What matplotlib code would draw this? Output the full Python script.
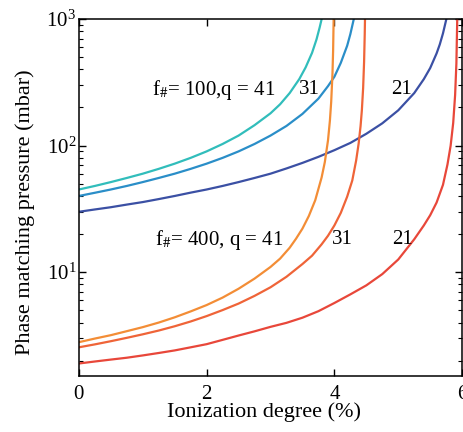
import matplotlib
matplotlib.use("Agg")
import matplotlib.pyplot as plt

plt.rcParams["font.family"] = ["Liberation Serif", "DejaVu Serif"]
plt.rcParams["mathtext.fontset"] = "stix"

# f# = 100 group (blue shades)
x_f100_q41 = [0, 0.25, 0.5, 0.75, 1, 1.25, 1.5, 1.75, 2, 2.25, 2.5, 2.75, 3, 3.15, 3.3,
              3.45, 3.55, 3.65, 3.72, 3.77, 3.82]
p_f100_q41 = [45, 48, 51.5, 55.5, 60, 65.5, 72, 80, 90, 103, 120, 145, 180, 212, 260,
              335, 415, 540, 690, 860, 1100]
x_f100_q31 = [0, 0.25, 0.5, 0.75, 1, 1.25, 1.5, 1.75, 2, 2.25, 2.5, 2.75, 3, 3.25, 3.5,
              3.75, 3.9, 4.0, 4.1, 4.2, 4.25, 4.3, 4.33]
p_f100_q31 = [40, 42.4, 45, 48, 51.5, 55.5, 60, 65.5, 72, 80, 90, 103, 120, 143, 178,
              235, 295, 350, 450, 615, 760, 980, 1150]
x_f100_q21 = [0, 0.25, 0.5, 0.75, 1, 1.25, 1.5, 1.75, 2, 2.25, 2.5, 2.75, 3, 3.25, 3.5,
              3.75, 4, 4.25, 4.5, 4.75, 5, 5.25, 5.4, 5.5, 5.6, 5.65, 5.7, 5.75, 5.78]
p_f100_q21 = [30, 31.3, 32.6, 34.2, 35.8, 37.8, 40, 42.5, 45, 48, 51.5, 55.5, 60, 66, 73,
              81.5, 92, 105, 124, 150, 190, 260, 335, 410, 535, 630, 770, 985, 1150]

# f# = 400 group (orange/red shades)
x_f400_q41 = [0, 0.25, 0.5, 0.75, 1, 1.25, 1.5, 1.75, 2, 2.25, 2.5, 2.75, 3, 3.15, 3.3,
              3.4, 3.5, 3.6, 3.7, 3.8, 3.85, 3.9, 3.93, 3.95, 3.97, 3.98, 3.99]
p_f400_q41 = [2.8, 2.99, 3.18, 3.42, 3.68, 4.0, 4.4, 4.9, 5.5, 6.3, 7.4, 8.9, 11.0, 12.8, 15.6,
              18.4, 22.1, 27.8, 37, 56, 74, 110, 158, 222, 370, 560, 1120]
x_f400_q31 = [0, 0.25, 0.5, 0.75, 1, 1.25, 1.5, 1.75, 2, 2.25, 2.5, 2.75, 3, 3.25, 3.5,
              3.65, 3.8, 3.9, 4.0, 4.1, 4.2, 4.28, 4.34, 4.38, 4.41, 4.43, 4.45, 4.465,
              4.475, 4.482]
p_f400_q31 = [2.55, 2.69, 2.85, 3.03, 3.23, 3.46, 3.74, 4.08, 4.5, 5.02, 5.65, 6.5, 7.6, 9.2, 11.6,
              13.5, 16.6, 19.4, 23.4, 29.4, 39.5, 53, 76, 104, 143, 190, 285, 460,
              760, 1200]
x_f400_q21 = [0, 0.25, 0.5, 0.75, 1, 1.25, 1.5, 1.75, 2, 2.25, 2.5, 2.75, 3, 3.25, 3.5,
              3.75, 4, 4.25, 4.5, 4.75, 5, 5.25, 5.4, 5.5, 5.6, 5.7, 5.77, 5.82, 5.86,
              5.89, 5.91, 5.925]
p_f400_q21 = [1.9, 1.97, 2.04, 2.11, 2.2, 2.3, 2.41, 2.55, 2.7, 2.92, 3.16, 3.41, 3.7, 3.98, 4.37,
              4.92, 5.71, 6.68, 7.87, 9.66, 12.6, 18.2, 23.4, 28.2, 35.5, 49, 70.8, 100, 151,
              251, 447, 1120]

curves = [
    (x_f100_q41, p_f100_q41, "#31bdbb"),
    (x_f100_q31, p_f100_q31, "#2a8ec8"),
    (x_f100_q21, p_f100_q21, "#3b50a4"),
    (x_f400_q41, p_f400_q41, "#f38d36"),
    (x_f400_q31, p_f400_q31, "#ef6438"),
    (x_f400_q21, p_f400_q21, "#e8473a"),
]

fig = plt.figure(figsize=(4.64, 4.32), dpi=100)
ax = fig.add_axes([0.170, 0.1285, 0.826, 0.8275])

for x, p, c in curves:
    ax.plot(x, p, color=c, lw=1.6, solid_joinstyle="round", solid_capstyle="round")

ax.set_yscale("log")
ax.set_xlim(0, 6)
ax.set_ylim(1.5, 1000)
ax.set_xticks([0, 2, 4, 6])

ax.tick_params(which="both", direction="in", top=True, right=True, labelsize=15)
ax.tick_params(which="major", length=5, width=1)
ax.tick_params(which="minor", length=3, width=0.8)
ax.tick_params(axis="x", pad=6)
ax.tick_params(axis="y", pad=2)
for s in ax.spines.values():
    s.set_linewidth(1.1)

ax.set_xlabel("Ionization degree (%)", fontsize=16)
ax.set_ylabel("Phase matching pressure (mbar)", fontsize=16)
ax.xaxis.set_label_coords(0.482, -0.072)
ax.yaxis.set_label_coords(-0.115, 0.46)

ax.text(1.14, 277, r"f$_{\#}$= 100,q = 41", fontsize=15, va="center", ha="left")
ax.text(3.61, 277, "31", fontsize=15, va="center", ha="center")
ax.text(5.05, 277, "21", fontsize=15, va="center", ha="center")
ax.text(1.19, 18.1, r"f$_{\#}$= 400, q = 41", fontsize=15, va="center", ha="left")
ax.text(4.12, 18.1, "31", fontsize=15, va="center", ha="center")
ax.text(5.06, 18.1, "21", fontsize=15, va="center", ha="center")

fig.savefig("out.png", dpi=100)
